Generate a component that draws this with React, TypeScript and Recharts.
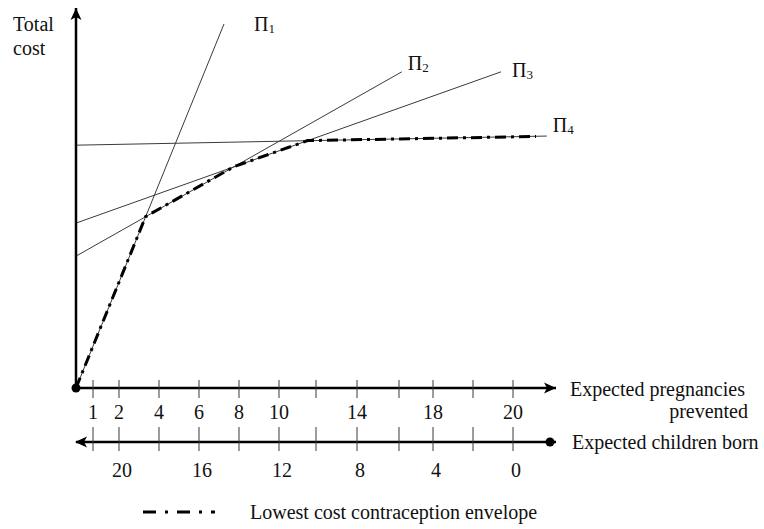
import React from 'react'
import { LineChart, Line, XAxis, YAxis } from 'recharts'

type Pt = { x: number; y: number }

// cost lines for each contraception option (x = position on pregnancies axis, y = cost)
const PI_1: Pt[] = [{ x: 0, y: 0 }, { x: 7.4, y: 95.8 }]
const PI_2: Pt[] = [{ x: 0, y: 34.7 }, { x: 16.29, y: 83.2 }]
const PI_3: Pt[] = [{ x: 0, y: 43.4 }, { x: 21.25, y: 83.2 }]
const PI_4: Pt[] = [{ x: 0, y: 63.9 }, { x: 23.54, y: 66.3 }]
const ENVELOPE: Pt[] = [
  { x: 0, y: 0 },
  { x: 3.48, y: 45.1 },
  { x: 7.88, y: 58.2 },
  { x: 11.58, y: 65.1 },
  { x: 23.0, y: 66.2 },
]

const TICKS = [0.85, 2.15, 4.15, 6.15, 8.15, 10.15, 12.0, 14.05, 16.15, 17.85, 19.85, 21.85]
const PREVENTED_LABELS = ['1', '2', '4', '6', '8', '10', '', '14', '', '18', '', '20']
const BORN_LABELS = ['', '20', '', '16', '', '12', '', '8', '', '4', '', '0']

const X_END = 24
const BORN_END = 23.7
const Y_END = 100

const FONT = '"Liberation Serif", "Times New Roman", serif'
const FS = 20
const INK = '#000'
const THIN = '#3a3a3a'

function PreventedTick(props: any) {
  const { x, y, payload } = props
  const v = payload.value
  if (v === 0) return <circle cx={x} cy={y} r={4.5} fill={INK} />
  if (v === X_END) return <path d={`M${x},${y} l-12,-5.5 l3,5.5 l-3,5.5 z`} fill={INK} />
  const i = TICKS.indexOf(v)
  return (
    <g>
      <line x1={x} x2={x} y1={y - 8} y2={y + 10} stroke={THIN} strokeWidth={1} />
      <text x={x} y={y + 31} textAnchor="middle" fontFamily={FONT} fontSize={FS} fill="#111">
        {PREVENTED_LABELS[i]}
      </text>
    </g>
  )
}

function BornTick(props: any) {
  const { x, y, payload } = props
  const v = payload.value
  if (v === 0) return <path d={`M${x - 1},${y} l12,-5.5 l-3,5.5 l3,5.5 z`} fill={INK} />
  if (v === BORN_END) return <circle cx={x} cy={y} r={4.5} fill={INK} />
  const i = TICKS.indexOf(v)
  return (
    <g>
      <line x1={x} x2={x} y1={y - 15} y2={y + 9} stroke={THIN} strokeWidth={1} />
      <text x={x + 3} y={y + 35} textAnchor="middle" fontFamily={FONT} fontSize={FS} fill="#111">
        {BORN_LABELS[i]}
      </text>
    </g>
  )
}

function CostTick(props: any) {
  const { x, y } = props
  return <path d={`M${x},${y} l-5.5,12 l5.5,-3 l5.5,3 z`} fill={INK} />
}

const piLabel = (n: string, dx: number, dy: number) => (p: any) => {
  if (p.index !== 1) return null
  return (
    <text x={p.x + dx} y={p.y + dy} fontFamily={FONT} fontSize={FS} fill="#111">
      <tspan>Π</tspan>
      <tspan fontSize={13} dy={2}>{n}</tspan>
    </text>
  )
}

const costLabel = (p: any) => {
  const vb = p.viewBox || { x: 75, y: 8, width: 1 }
  const ax = vb.x + (vb.width || 0)
  return (
    <text fontFamily={FONT} fontSize={FS} fill="#111">
      <tspan x={ax - 63} y={vb.y + 23}>Total</tspan>
      <tspan x={ax - 63} y={vb.y + 47}>cost</tspan>
    </text>
  )
}

const preventedLabel = (p: any) => {
  const vb = p.viewBox || { x: 76, y: 388, width: 480 }
  const x0 = vb.x + vb.width
  return (
    <text fontFamily={FONT} fontSize={FS} fill="#111">
      <tspan x={x0 + 14} y={vb.y + 8}>Expected pregnancies</tspan>
      <tspan x={x0 + 192} y={vb.y + 30} textAnchor="end">prevented</tspan>
    </text>
  )
}

const bornLabel = (p: any) => {
  const vb = p.viewBox || { x: 76, y: 442, width: 480 }
  return (
    <text x={vb.x + vb.width + 16} y={vb.y + 7} fontFamily={FONT} fontSize={FS} fill="#111">
      Expected children born
    </text>
  )
}

export default function App() {
  return (
    <div style={{ position: 'absolute', left: 0, top: 0, width: 764, height: 529, background: '#fff' }}>
      <LineChart
        width={764}
        height={529}
        margin={{ top: 8, right: 208, left: 75, bottom: 27 }}
      >
        <XAxis
          dataKey="x"
          type="number"
          domain={[0, X_END]}
          ticks={[0, ...TICKS, X_END]}
          interval={0}
          height={54}
          tickSize={0}
          tickMargin={0}
          tickLine={false}
          axisLine={{ stroke: INK, strokeWidth: 2.5 }}
          tick={PreventedTick}
          label={{ content: preventedLabel }}
          allowDataOverflow
        />
        <XAxis
          xAxisId="born"
          dataKey="x"
          type="number"
          domain={[0, X_END]}
          ticks={[0, ...TICKS, BORN_END]}
          interval={0}
          height={60}
          tickSize={0}
          tickMargin={0}
          tickLine={false}
          axisLine={{ stroke: INK, strokeWidth: 2.5 }}
          tick={BornTick}
          label={{ content: bornLabel }}
          allowDataOverflow
        />
        <YAxis
          type="number"
          domain={[0, Y_END]}
          ticks={[Y_END]}
          interval={0}
          width={1}
          tickSize={0}
          tickMargin={0}
          tickLine={false}
          axisLine={{ stroke: INK, strokeWidth: 2.5 }}
          tick={CostTick}
          label={{ content: costLabel }}
          allowDataOverflow
        />
        <Line data={PI_1} dataKey="y" type="linear" stroke={THIN} strokeWidth={1} dot={false}
          isAnimationActive={false} label={piLabel('1', 30, 7)} />
        <Line data={PI_2} dataKey="y" type="linear" stroke={THIN} strokeWidth={1} dot={false}
          isAnimationActive={false} label={piLabel('2', 6, -2)} />
        <Line data={PI_3} dataKey="y" type="linear" stroke={THIN} strokeWidth={1} dot={false}
          isAnimationActive={false} label={piLabel('3', 11, 5)} />
        <Line data={PI_4} dataKey="y" type="linear" stroke={THIN} strokeWidth={1} dot={false}
          isAnimationActive={false} label={piLabel('4', 6, -4)} />
        <Line xAxisId="born" data={ENVELOPE} dataKey="y" type="linear" stroke={INK} strokeWidth={3}
          strokeDasharray="11 5 3 5" dot={false} isAnimationActive={false} />
      </LineChart>
      <div style={{ position: 'absolute', left: 143, top: 500, display: 'flex', alignItems: 'center', fontFamily: FONT, fontSize: FS, color: '#111' }}>
        <svg width={72} height={24}>
          <line x1={0} x2={72} y1={12} y2={12} stroke={INK} strokeWidth={3} strokeDasharray="13 9 3 9" />
        </svg>
        <span style={{ marginLeft: 35, whiteSpace: 'nowrap' }}>Lowest cost contraception envelope</span>
      </div>
    </div>
  )
}
